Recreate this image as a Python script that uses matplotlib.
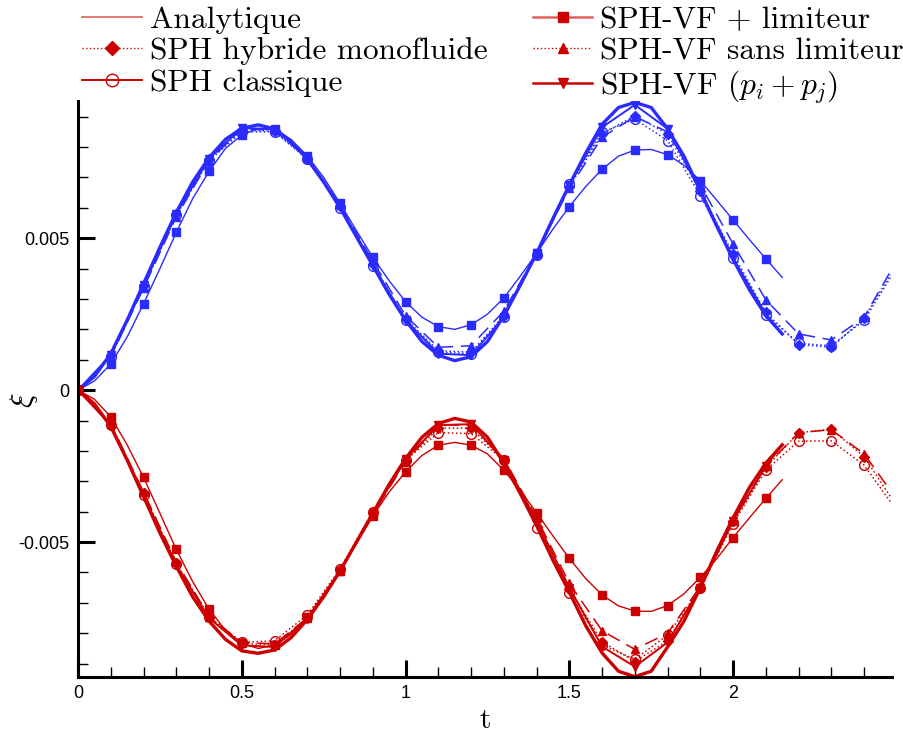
import numpy as np
import matplotlib
matplotlib.use("Agg")
from matplotlib import pyplot as plt
from matplotlib.lines import Line2D

plt.rcParams['mathtext.fontset'] = 'cm'
plt.rcParams['axes.unicode_minus'] = False

# Colours of the two families of curves
blue = '#2b2bff'
red = '#cc0000'

# Time grids (s)
t_fine = np.round(np.arange(0, 2.151, 0.05), 2)          # 0 .. 2.15
t_sim = list(np.round(np.arange(0, 2.401, 0.1), 1)) + [2.48]   # markers 0 .. 2.4 + line end
t_pp = list(np.round(np.arange(0, 2.101, 0.1), 1)) + [2.15]

# Values, in units of 1e-3
# --- upper (blue) set ---
ana_b = [0, 0.45, 1.2, 2.3, 3.5, 4.7, 5.85, 6.85, 7.65, 8.25, 8.62, 8.73, 8.6, 8.2, 7.6,
         6.85, 6.0, 5.05, 4.1, 3.15, 2.3, 1.6, 1.15, 0.97, 1.1, 1.6, 2.45, 3.45, 4.5,
         5.65, 6.75, 7.8, 8.75, 9.3, 9.47, 9.3, 8.6, 7.7, 6.55, 5.4, 4.3, 3.3, 2.45, 1.85]
lim_b = [0, 0.3, 0.86, 1.75, 2.84, 4.0, 5.19, 6.3, 7.2, 7.95, 8.4, 8.6, 8.56, 8.25, 7.71,
         7.0, 6.15, 5.25, 4.37, 3.6, 2.91, 2.4, 2.09, 2.0, 2.15, 2.5, 3.03, 3.75, 4.5,
         5.3, 6.04, 6.7, 7.27, 7.7, 7.9, 7.92, 7.75, 7.4, 6.89, 6.25, 5.6, 4.95, 4.32, 3.71]
hyb_b = [0, 1.15, 3.45, 5.8, 7.6, 8.56, 8.52, 7.62, 6.05, 4.15, 2.35, 1.3, 1.25, 2.45,
         4.45, 6.7, 8.43, 9.03, 8.43, 6.55, 4.48, 2.56, 1.5, 1.41, 2.37, 3.8]
cla_b = [0, 1.1, 3.4, 5.75, 7.55, 8.5, 8.5, 7.6, 6.0, 4.08, 2.3, 1.25, 1.2, 2.4,
         4.45, 6.8, 8.48, 8.92, 8.21, 6.4, 4.35, 2.48, 1.54, 1.46, 2.3, 3.7]
san_b = [0, 1.1, 3.35, 5.7, 7.55, 8.6, 8.55, 7.65, 6.1, 4.25, 2.45, 1.41, 1.46, 2.6,
         4.5, 6.65, 8.32, 9.0, 8.5, 6.75, 4.81, 2.97, 1.85, 1.65, 2.4, 3.9]
pp_b = [0, 1.15, 3.45, 5.8, 7.62, 8.62, 8.6, 7.65, 6.05, 4.1, 2.3, 1.2, 1.15, 2.4,
        4.5, 6.75, 8.65, 9.39, 8.6, 6.55, 4.35, 2.5, 1.85]

# --- lower (red) set ---
ana_r = [0, -0.45, -1.2, -2.3, -3.5, -4.7, -5.8, -6.8, -7.6, -8.2, -8.58, -8.66, -8.55,
         -8.15, -7.55, -6.8, -5.95, -5.0, -4.05, -3.1, -2.25, -1.55, -1.1, -0.93, -1.05,
         -1.55, -2.4, -3.4, -4.45, -5.6, -6.65, -7.75, -8.65, -9.25, -9.43, -9.25, -8.45,
         -7.6, -6.5, -5.3, -4.2, -3.2, -2.4, -1.8]
lim_r = [0, -0.3, -0.88, -1.8, -2.87, -4.05, -5.24, -6.3, -7.21, -7.9, -8.33, -8.5,
         -8.39, -8.05, -7.48, -6.8, -5.95, -5.05, -4.15, -3.35, -2.69, -2.15, -1.81,
         -1.72, -1.81, -2.1, -2.63, -3.3, -4.04, -4.8, -5.54, -6.2, -6.74, -7.1, -7.27,
         -7.28, -7.09, -6.7, -6.16, -5.55, -4.85, -4.2, -3.56, -2.95]
hyb_r = [0, -1.1, -3.4, -5.7, -7.48, -8.33, -8.39, -7.5, -5.92, -4.05, -2.32, -1.25,
         -1.25, -2.3, -4.28, -6.53, -8.28, -8.93, -8.25, -6.52, -4.3, -2.54, -1.4, -1.29,
         -2.19, -3.5]
cla_r = [0, -1.15, -3.45, -5.72, -7.45, -8.3, -8.25, -7.4, -5.88, -4.01, -2.3, -1.4,
         -1.43, -2.3, -4.53, -6.69, -8.39, -8.86, -8.06, -6.52, -4.39, -2.63, -1.68,
         -1.67, -2.47, -3.67]
san_r = [0, -1.1, -3.35, -5.65, -7.45, -8.3, -8.35, -7.5, -5.95, -4.1, -2.35, -1.15,
         -1.15, -2.25, -4.2, -6.36, -7.92, -8.53, -8.0, -6.45, -4.3, -2.5, -1.4, -1.3,
         -2.1, -3.3]
pp_r = [0, -1.15, -3.45, -5.75, -7.5, -8.4, -8.45, -7.5, -5.95, -4.05, -2.28, -1.15,
        -1.12, -2.3, -4.3, -6.5, -8.44, -9.1, -8.3, -6.5, -4.3, -2.5, -1.8]

labels = ['Analytique', 'SPH hybride monofluide', 'SPH classique',
          'SPH-VF + limiteur', 'SPH-VF sans limiteur', r'SPH-VF $(p_i + p_j)$']

xticks = [0, 0.5, 1, 1.5, 2]
xtick_labels = ['0', '0.5', '1', '1.5', '2']
yticks = [-0.005, 0, 0.005]
ytick_labels = ['-0.005', '0', '0.005']

fig = plt.figure(figsize=(9.04, 7.33), dpi=100)
ax = fig.add_axes([0.0863, 0.0764, 0.9004, 0.7856])

sim_marks = list(range(25))
pp_marks = list(range(22))

for col, ana, lim, hyb, cla, san, pp in [(blue, ana_b, lim_b, hyb_b, cla_b, san_b, pp_b),
                                         (red, ana_r, lim_r, hyb_r, cla_r, san_r, pp_r)]:
    s = 1e-3
    ax.plot(t_fine, np.array(ana) * s, '-', color=col, lw=2.4)
    ax.plot(t_fine, np.array(lim) * s, '-', color=col, lw=1.0,
            marker='s', ms=5.5, markevery=2)
    ax.plot(t_sim, np.array(hyb) * s, ':', color=col, lw=1.1,
            marker='D', ms=5, markevery=sim_marks)
    ax.plot(t_sim, np.array(cla) * s, ':', color=col, lw=1.1,
            marker='o', ms=7, mfc='none', mew=1.0, markevery=sim_marks)
    ax.plot(t_sim, np.array(san) * s, color=col, lw=1.1, dashes=(9, 5),
            marker='^', ms=6, markevery=sim_marks)
    ax.plot(t_pp, np.array(pp) * s, '-', color=col, lw=1.4,
            marker='v', ms=6, markevery=pp_marks)

ax.set_xlim(0, 2.485)
ax.set_ylim(-0.00944, 0.00951)

ax.spines['top'].set_visible(False)
ax.spines['right'].set_visible(False)
ax.spines['left'].set_linewidth(2.2)
ax.spines['bottom'].set_linewidth(2.2)

ax.set_xticks(xticks)
ax.set_xticklabels(xtick_labels)
ax.set_yticks(yticks)
ax.set_yticklabels(ytick_labels)
ax.set_xticks(np.arange(0, 2.49, 0.1), minor=True)
ax.set_yticks(np.arange(-0.009, 0.0095, 0.001), minor=True)
ax.tick_params(which='major', direction='in', length=12, width=2.2,
               labelsize=13, pad=6)
ax.tick_params(which='minor', direction='in', length=7, width=1.0)
for lab in ax.get_xticklabels() + ax.get_yticklabels():
    lab.set_family('Liberation Sans')

ax.set_xlabel('t', family='cmr10', fontsize=21, labelpad=4)
ax.set_ylabel(r'$\xi$', fontsize=22)
ax.yaxis.set_label_coords(-0.047, 0.48)

# legend with its own line styles (red set)
handles = [
    Line2D([], [], color='#e06060', lw=1.2),
    Line2D([], [], color=red, lw=1.0, ls=':', marker='D', ms=7),
    Line2D([], [], color=red, lw=1.4, marker='o', ms=9, mfc='none'),
    Line2D([], [], color='#e06060', lw=1.8, marker='s', ms=7, mfc=red, mec=red),
    Line2D([], [], color=red, lw=1.0, ls=':', marker='^', ms=7),
    Line2D([], [], color=red, lw=1.8, marker='v', ms=7),
]
fig.legend(handles, labels, ncol=2, loc='upper left', bbox_to_anchor=(0.07, 1.017),
           frameon=False, prop={'family': 'cmr10', 'size': 22.6},
           handlelength=1.9, handletextpad=0.25, columnspacing=1.45,
           labelspacing=0.1, borderpad=0.1)

fig.savefig('out.png', dpi=100)
